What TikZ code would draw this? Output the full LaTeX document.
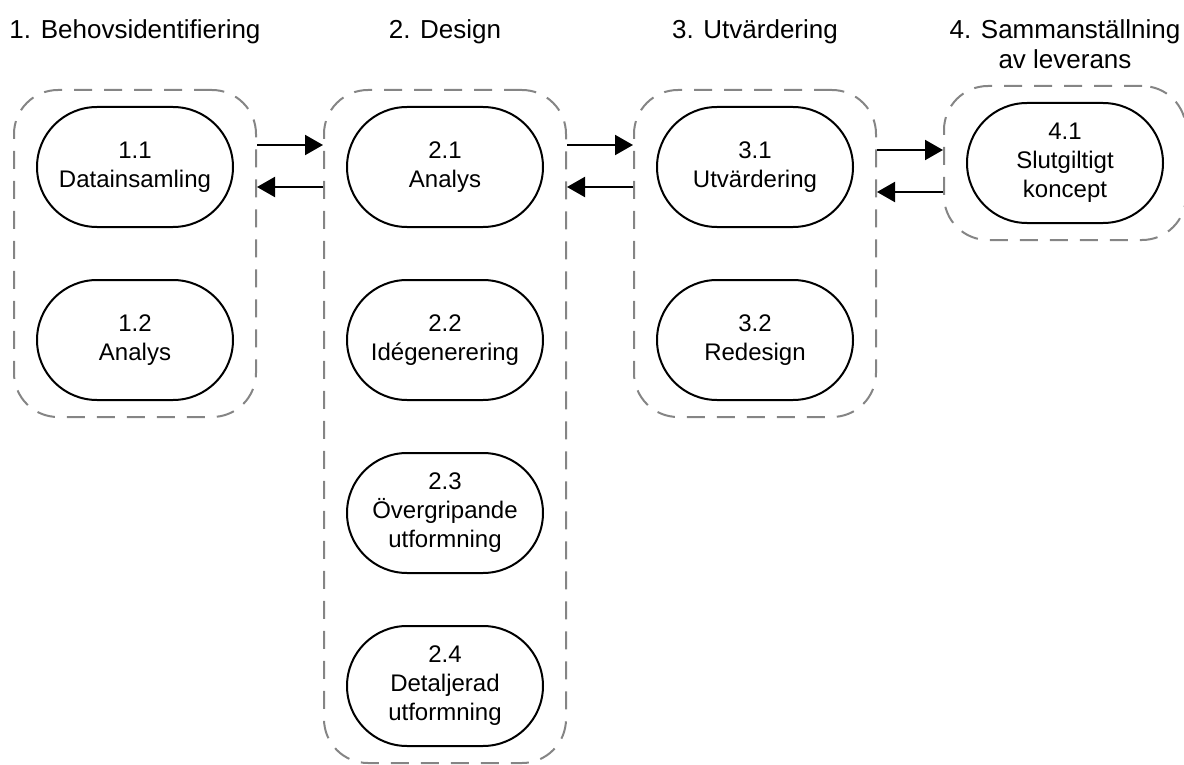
\documentclass[tikz,border=0pt]{standalone}
\usepackage{fontspec}
\setmainfont{Liberation Sans}
\usetikzlibrary{positioning, fit, arrows.meta}
\tikzset{
>={Triangle[length=9pt, width=10pt]}, % filled arrow heads
node distance=86.5pt, % distance between two steps of one phase
proc/.style={draw, line width=1pt, rounded corners=30pt, minimum width=98pt, minimum height=60pt, inner sep=0pt, align=center, font=\fontsize{12}{14.5}\selectfont}, % one step
group/.style={draw=black!48, line width=1pt, dash pattern=on 9pt off 6pt, rounded corners=22pt, inner xsep=11pt, inner ysep=8pt}, % frame round a phase
phase/.style={anchor=north, inner sep=0pt, align=center, font=\fontsize{13}{15}\selectfont}, % phase heading
}
\begin{document}
\begin{tikzpicture}[x=0.5pt, y=-0.5pt]
            \useasboundingbox (0,0) rectangle (1184,765);
            \node[proc] (d11) at (135,167) {1.1\\Datainsamling};
            \node[proc, below of=d11] (d12) {1.2\\Analys};
            \node[proc, right of=d11, node distance=155pt] (d21) {2.1\\Analys};
            \node[proc, below of=d21] (d22) {2.2\\Idégenerering};
            \node[proc, below of=d22] (d23) {2.3\\Övergripande\\utformning};
            \node[proc, below of=d23] (d24) {2.4\\Detaljerad\\utformning};
            \node[proc, right of=d21, node distance=155pt] (d31) {3.1\\Utvärdering};
            \node[proc, below of=d31] (d32) {3.2\\Redesign};
            \node[proc, right of=d31, node distance=155pt, yshift=2pt] (d41) {4.1\\Slutgiltigt\\koncept};

            \node[group, fit=(d11)(d12)] (g1) {};
            \node[group, fit=(d21)(d24)] (g2) {};
            \node[group, fit=(d31)(d32)] (g3) {};
            \node[group, fit=(d41)] (g4) {};

            \node[phase] (t1) at (135,19) {1. Behovsidentifiering};
            \node[phase] (t2) at (445,19) {2. Design};
            \node[phase] (t3) at (755,19) {3. Utvärdering};
            \node[phase] (t4) at (1065,19) {4. Sammanställning\\av leverans};

            \coordinate (fwd) at ([yshift=11pt]d11.center);
            \coordinate (back) at ([yshift=-10pt]d11.center);
            \coordinate (fwd4) at ([yshift=8.5pt]d11.center);
            \coordinate (back4) at ([yshift=-12.5pt]d11.center);
            \path[->, line width=1pt]
                (fwd -| g1.east) edge (fwd -| g2.west)
                (back -| g2.west) edge (back -| g1.east)
                (fwd -| g2.east) edge (fwd -| g3.west)
                (back -| g3.west) edge (back -| g2.east)
                (fwd4 -| g3.east) edge (fwd4 -| g4.west)
                (back4 -| g4.west) edge (back4 -| g3.east)
                ;
\end{tikzpicture}
\end{document}
